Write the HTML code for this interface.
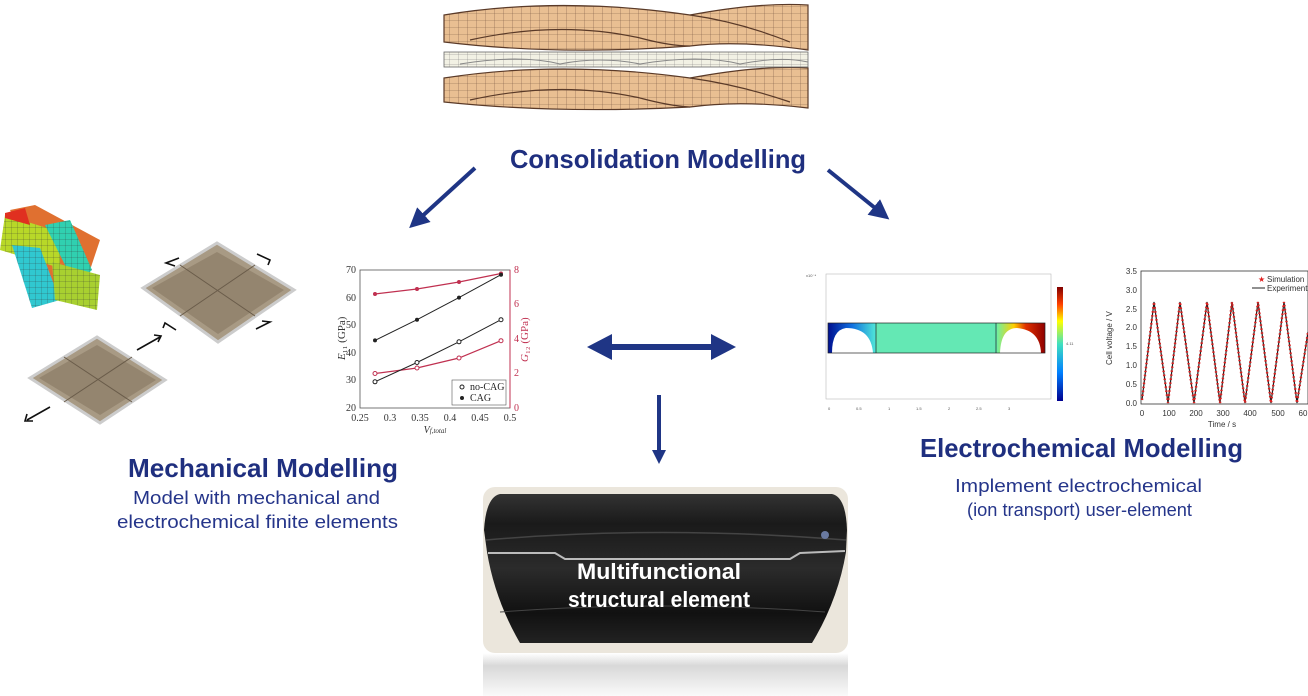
<!DOCTYPE html>
<html><head><meta charset="utf-8"><style>
html,body{margin:0;padding:0;background:#fff;}
svg{display:block;}
</style></head><body>
<svg width="1308" height="696" viewBox="0 0 1308 696" xmlns="http://www.w3.org/2000/svg" font-family="Liberation Sans, sans-serif">
<defs>
<pattern id="grid" width="9" height="7" patternUnits="userSpaceOnUse">
<rect width="9" height="7" fill="#e9bf92"/>
<path d="M9 0V7M0 7H9" stroke="#7a5a45" stroke-width="0.6"/>
</pattern>
<pattern id="grid2" width="9" height="5" patternUnits="userSpaceOnUse">
<rect width="9" height="5" fill="#f2f1e4"/>
<path d="M9 0V5M0 5H9" stroke="#777" stroke-width="0.5"/>
</pattern>
<pattern id="cgrid" width="6" height="6" patternUnits="userSpaceOnUse">
<path d="M6 0V6M0 6H6" stroke="#333" stroke-width="0.4" fill="none"/>
</pattern>
<linearGradient id="jet" x1="0" y1="1" x2="0" y2="0">
<stop offset="0" stop-color="#00008f"/><stop offset="0.25" stop-color="#0080ff"/><stop offset="0.5" stop-color="#40e0c0"/><stop offset="0.7" stop-color="#ffff00"/><stop offset="0.85" stop-color="#ff4000"/><stop offset="1" stop-color="#800000"/>
</linearGradient>
<linearGradient id="elL" x1="0" y1="0" x2="1" y2="0">
<stop offset="0" stop-color="#00108f"/><stop offset="0.5" stop-color="#1070e0"/><stop offset="1" stop-color="#50e8d8"/>
</linearGradient>
<linearGradient id="elR" x1="0" y1="0" x2="1" y2="0">
<stop offset="0" stop-color="#70f0a0"/><stop offset="0.35" stop-color="#ffd000"/><stop offset="0.6" stop-color="#e03000"/><stop offset="1" stop-color="#900000"/>
</linearGradient>
<linearGradient id="trunk" x1="0" y1="0" x2="0" y2="1">
<stop offset="0" stop-color="#333"/><stop offset="0.2" stop-color="#1a1a1a"/><stop offset="0.5" stop-color="#2b2b2b"/><stop offset="0.8" stop-color="#111"/><stop offset="1" stop-color="#222"/>
</linearGradient>
<linearGradient id="refl" x1="0" y1="0" x2="0" y2="1">
<stop offset="0" stop-color="#fff"/><stop offset="0.3" stop-color="#d8d8d8"/><stop offset="1" stop-color="#fafafa"/>
</linearGradient>
<marker id="ah" markerWidth="5" markerHeight="5" refX="2" refY="2.5" orient="auto"><path d="M0,0L5,2.5L0,5z" fill="#1f3585"/></marker>
</defs>

<!-- top woven mesh -->
<g stroke="#5a3a28" stroke-width="1.2">
<path d="M444 15 Q560 -4 690 15 Q760 2 808 5 L808 50 Q740 40 690 46 Q560 56 444 42 Z" fill="url(#grid)"/>
<path d="M470 40 Q560 20 640 38 Q670 46 690 46" fill="none"/>
<path d="M690 15 Q740 22 790 42" fill="none"/>
<path d="M444 78 Q560 60 690 78 Q760 65 808 68 L808 108 Q740 100 690 107 Q560 114 444 102 Z" fill="url(#grid)"/>
<path d="M470 100 Q560 80 640 98 Q670 106 690 107" fill="none"/>
<path d="M690 78 Q740 85 790 102" fill="none"/>
</g>
<rect x="444" y="52" width="364" height="15" fill="url(#grid2)" stroke="#666" stroke-width="0.8"/>
<path d="M460 64 Q520 54 560 64 Q600 56 640 64 Q700 54 740 64 Q780 56 808 62" stroke="#888" fill="none" stroke-width="1"/>

<!-- titles -->
<text x="510" y="168" font-size="26" font-weight="bold" fill="#1f2f7f" textLength="296" lengthAdjust="spacingAndGlyphs">Consolidation Modelling</text>
<line x1="475" y1="168" x2="418" y2="220" stroke="#1f3585" stroke-width="4" marker-end="url(#ah)"/>
<line x1="828" y1="170" x2="880" y2="212" stroke="#1f3585" stroke-width="4" marker-end="url(#ah)"/>

<!-- coloured mesh -->
<g>
<polygon points="10,210 35,205 100,240 80,300 55,300" fill="#e07030"/>
<polygon points="5,215 60,232 60,268 0,250" fill="#b8d828"/>
<polygon points="5,215 60,232 60,268 0,250" fill="url(#cgrid)"/>
<polygon points="12,245 40,248 60,300 32,308" fill="#30c8d0"/>
<polygon points="12,245 40,248 60,300 32,308" fill="url(#cgrid)"/>
<polygon points="45,225 70,220 92,270 75,285" fill="#30d0b0"/>
<polygon points="45,225 70,220 92,270 75,285" fill="url(#cgrid)"/>
<polygon points="52,262 100,275 97,310 55,300" fill="#a8d030"/>
<polygon points="52,262 100,275 97,310 55,300" fill="url(#cgrid)"/>
<polygon points="5,213 25,208 30,225 5,218" fill="#e03020"/>
</g>
<!-- plates -->
<polygon points="217,243 294,290 218,342 143,288" fill="#a89a84" stroke="#ccc" stroke-width="3"/>
<polygon points="217,252 284,290 218,334 152,288" fill="#8c7c66" opacity="0.7"/>
<path d="M180 265 L255 316 M255 265 L180 316" stroke="#6a5c4a" stroke-width="1"/>
<polygon points="97,337 165,380 100,423 30,378" fill="#a89a84" stroke="#ccc" stroke-width="3"/>
<polygon points="97,345 156,380 100,415 39,378" fill="#8c7c66" opacity="0.7"/>
<path d="M64 357 L132 402 M132 357 L64 402" stroke="#6a5c4a" stroke-width="1"/>
<g stroke="#111" stroke-width="1.6" fill="none">
<path d="M137 350 L160 337 M154 335 L161 336 L158 342"/>
<path d="M50 407 L27 420 M27 414 L25 421 L33 421"/>
<path d="M179 258 L166 263 L175 266"/>
<path d="M257 254 L270 260 L268 265"/>
<path d="M176 330 L165 323 L163 328"/>
<path d="M256 329 L270 322 L262 321"/>
</g>

<!-- chart 1 -->
<g font-family="Liberation Serif, serif" font-size="10">
<rect x="360" y="270" width="150" height="138" fill="none" stroke="#555" stroke-width="0.8"/>
<line x1="510" y1="270" x2="510" y2="408" stroke="#c03050" stroke-width="1"/>
<g fill="#333" text-anchor="end">
<text x="356" y="273">70</text><text x="356" y="301">60</text><text x="356" y="328">50</text><text x="356" y="356">40</text><text x="356" y="383">30</text><text x="356" y="411">20</text>
</g>
<g fill="#c03050">
<text x="514" y="273">8</text><text x="514" y="307">6</text><text x="514" y="342">4</text><text x="514" y="376">2</text><text x="514" y="411">0</text>
</g>
<g fill="#333" text-anchor="middle">
<text x="360" y="421">0.25</text><text x="390" y="421">0.3</text><text x="420" y="421">0.35</text><text x="450" y="421">0.4</text><text x="480" y="421">0.45</text><text x="510" y="421">0.5</text>
<text x="435" y="433" font-style="italic">V<tspan font-size="7">f,total</tspan></text>
</g>
<text x="0" y="0" transform="translate(345,360) rotate(-90)" fill="#333" font-size="11"><tspan font-style="italic">E</tspan>₁₁ (GPa)</text>
<text x="0" y="0" transform="translate(528,362) rotate(-90)" fill="#c03050" font-size="11"><tspan font-style="italic">G</tspan>₁₂ (GPa)</text>
<polyline points="375,294 417,289 459,282 501,273.5" fill="none" stroke="#c03050" stroke-width="1.2"/>
<polyline points="375,373.5 417,368 459,358 501,340.7" fill="none" stroke="#c03050" stroke-width="1.2"/>
<polyline points="375,381.8 417,362.5 459,341.8 501,319.7" fill="none" stroke="#222" stroke-width="1"/>
<polyline points="375,340.4 417,319.7 459,297.6 501,274.7" fill="none" stroke="#222" stroke-width="1"/>
<g fill="#c03050"><circle cx="375" cy="294" r="2"/><circle cx="417" cy="289" r="2"/><circle cx="459" cy="282" r="2"/><circle cx="501" cy="273.5" r="2"/></g>
<g fill="#fff" stroke="#c03050"><circle cx="375" cy="373.5" r="2"/><circle cx="417" cy="368" r="2"/><circle cx="459" cy="358" r="2"/><circle cx="501" cy="340.7" r="2"/></g>
<g fill="#fff" stroke="#222"><circle cx="375" cy="381.8" r="2"/><circle cx="417" cy="362.5" r="2"/><circle cx="459" cy="341.8" r="2"/><circle cx="501" cy="319.7" r="2"/></g>
<g fill="#222"><circle cx="375" cy="340.4" r="2"/><circle cx="417" cy="319.7" r="2"/><circle cx="459" cy="297.6" r="2"/><circle cx="501" cy="274.7" r="2"/></g>
<rect x="452" y="380" width="54" height="25" fill="#fff" stroke="#555" stroke-width="0.6"/>
<circle cx="462" cy="387" r="2" fill="none" stroke="#222"/><text x="470" y="390" fill="#222">no-CAG</text>
<circle cx="462" cy="398" r="2" fill="#222"/><text x="470" y="401" fill="#222">CAG</text>
</g>

<!-- arrows centre -->
<line x1="600" y1="347" x2="723" y2="347" stroke="#1f3585" stroke-width="6"/>
<polygon points="587,347 612,334 612,360" fill="#1f3585"/>
<polygon points="736,347 711,334 711,360" fill="#1f3585"/>
<line x1="659" y1="395" x2="659" y2="452" stroke="#1f3585" stroke-width="4"/>
<polygon points="652,450 666,450 659,464" fill="#1f3585"/>

<!-- chart 2 electrochemical -->
<g font-size="4" fill="#555">
<rect x="826" y="274" width="225" height="125" fill="none" stroke="#bbb" stroke-width="0.6"/>
<rect x="828" y="323" width="217" height="30" fill="#64e8b4"/>
<rect x="828" y="323" width="48" height="30" fill="url(#elL)"/>
<rect x="997" y="323" width="48" height="30" fill="url(#elR)"/>
<path d="M832 353 Q832 330 846 328 Q871 328 873 353 Z" fill="#fff"/>
<path d="M1000 353 Q1001 328 1017 328 Q1040 330 1041 353 Z" fill="#fff"/>
<rect x="828" y="323" width="217" height="30" fill="none" stroke="#222" stroke-width="0.7"/>
<line x1="876" y1="323" x2="876" y2="353" stroke="#222" stroke-width="0.7"/>
<line x1="996" y1="323" x2="996" y2="353" stroke="#222" stroke-width="0.7"/>
<rect x="1057" y="287" width="6" height="114" fill="url(#jet)"/>
<text x="1066" y="345">4.11</text>
<text x="806" y="277">x10⁻⁴</text>
<text x="828" y="410">0</text><text x="856" y="410">0.5</text><text x="888" y="410">1</text><text x="916" y="410">1.5</text><text x="948" y="410">2</text><text x="976" y="410">2.5</text><text x="1008" y="410">3</text>
</g>

<!-- chart 3 -->
<g font-size="8" fill="#333">
<rect x="1141" y="271" width="167" height="133" fill="none" stroke="#333" stroke-width="0.8"/>
<g text-anchor="end">
<text x="1137" y="274">3.5</text><text x="1137" y="293">3.0</text><text x="1137" y="312">2.5</text><text x="1137" y="330">2.0</text><text x="1137" y="349">1.5</text><text x="1137" y="368">1.0</text><text x="1137" y="387">0.5</text><text x="1137" y="406">0.0</text>
</g>
<g text-anchor="middle">
<text x="1142" y="416">0</text><text x="1169" y="416">100</text><text x="1196" y="416">200</text><text x="1223" y="416">300</text><text x="1250" y="416">400</text><text x="1278" y="416">500</text><text x="1303" y="416">60</text>
<text x="1222" y="427">Time / s</text>
</g>
<text transform="translate(1112,365) rotate(-90)">Cell voltage / V</text>
<polyline points="1142,400 1154,302 1168,403 1180,302 1194,403 1207,302 1220,403 1232,302 1245,403 1258,302 1271,403 1284,302 1297,403 1308,332" fill="none" stroke="#222" stroke-width="1.2"/>
<polyline points="1142,400 1154,302 1168,403 1180,302 1194,403 1207,302 1220,403 1232,302 1245,403 1258,302 1271,403 1284,302 1297,403 1308,332" fill="none" stroke="#e02020" stroke-width="2.4" stroke-dasharray="1.5 2.5"/>
<text x="1258" y="282" fill="#e02020">★</text><text x="1267" y="282">Simulation</text>
<line x1="1252" y1="288" x2="1265" y2="288" stroke="#222"/><text x="1267" y="291">Experiment</text>
</g>

<!-- Mechanical text -->
<text x="128" y="477" font-size="26" font-weight="bold" fill="#1f2f7f" textLength="270" lengthAdjust="spacingAndGlyphs">Mechanical Modelling</text>
<text x="133" y="504" font-size="18" fill="#25358a" textLength="247" lengthAdjust="spacingAndGlyphs">Model with mechanical and</text>
<text x="117" y="528" font-size="18" fill="#25358a" textLength="281" lengthAdjust="spacingAndGlyphs">electrochemical finite elements</text>

<!-- Electrochemical text -->
<text x="920" y="457" font-size="26" font-weight="bold" fill="#1f2f7f" textLength="323" lengthAdjust="spacingAndGlyphs">Electrochemical Modelling</text>
<text x="955" y="492" font-size="18" fill="#25358a" textLength="247" lengthAdjust="spacingAndGlyphs">Implement electrochemical</text>
<text x="967" y="516" font-size="18" fill="#25358a" textLength="225" lengthAdjust="spacingAndGlyphs">(ion transport) user-element</text>

<!-- photo -->
<rect x="483" y="487" width="365" height="166" rx="12" fill="#ebe6dc"/>
<rect x="483" y="653" width="365" height="43" fill="url(#refl)"/>
<path d="M500 494 L832 494 Q846 497 847 530 L846 552 Q838 600 812 643 L520 643 Q495 600 487 552 L484 530 Q486 497 500 494 Z" fill="url(#trunk)"/>
<path d="M486 540 Q660 525 846 540" stroke="#444" stroke-width="1.5" fill="none"/>
<path d="M488 553 L555 553 L565 559 L790 559 L800 553 L845 551" stroke="#bbb" stroke-width="2" fill="none"/>
<path d="M500 612 Q660 600 825 612" stroke="#444" stroke-width="1" fill="none"/>
<circle cx="825" cy="535" r="4" fill="#6a7aa0"/>
<text x="659" y="579" font-size="22" font-weight="bold" fill="#fff" text-anchor="middle" textLength="164" lengthAdjust="spacingAndGlyphs">Multifunctional</text>
<text x="659" y="607" font-size="22" font-weight="bold" fill="#fff" text-anchor="middle" textLength="182" lengthAdjust="spacingAndGlyphs">structural element</text>
</svg>
</body></html>
